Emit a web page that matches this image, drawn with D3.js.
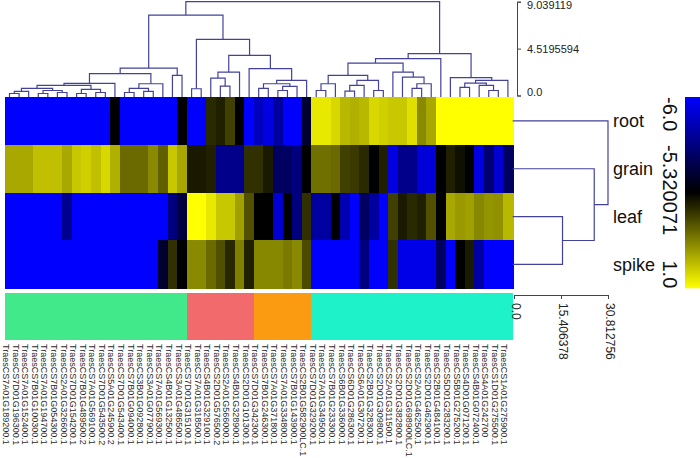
<!DOCTYPE html>
<html><head><meta charset="utf-8">
<script src="https://cdn.jsdelivr.net/npm/d3@7/dist/d3.min.js"></script>
<style>body{margin:0;background:#fff}svg{display:block}</style>
</head><body>
<svg id="chart" width="700" height="458"></svg>
<script>
// ---------------- DATA ----------------
const genes = [
"TraesCS7A01G189200.1","TraesCS7D01G196300.1","TraesCS7A01G152400.1","TraesCS7B01G100300.1",
"TraesCS7A01G194700.1","TraesCS7B01G054300.1","TraesCS2A01G326600.1","TraesCS7D01G154200.1",
"TraesCS7B01G489500.2","TraesCS7A01G569100.1","TraesCS7D01G543500.2","TraesCS5A01G245900.2",
"TraesCS7D01G543400.1","TraesCS7B01G094000.1","TraesCS3B01G092800.1","TraesCS3A01G077900.1",
"TraesCS7A01G569300.1","TraesCS4B01G132500.1","TraesCS3A01G486500.1","TraesCS7D01G315100.1",
"TraesCS7A01G318500.1","TraesCS4B01G329100.1","TraesCS2D01G576500.2","TraesCS2A01G566000.1",
"TraesCS4B01G328900.1","TraesCS2D01G101300.1","TraesCS7D01G342300.1","TraesCS7B01G246300.1",
"TraesCS7A01G371800.1","TraesCS7A01G334800.1","TraesCS7B01G143900.1","TraesCS2B01G582900LC.1",
"TraesCS7D01G329200.1","TraesCS7A01G349500.1","TraesCS7B01G233300.1","TraesCS6B01G336000.1",
"TraesCS6D01G286300.1","TraesCS6A01G307200.1","TraesCS2B01G328300.1","TraesCS2D01G309800.1",
"TraesCS2A01G311500.1","TraesCS2D01G382800.1","TraesCS2D01G698900LC.1","TraesCS2A01G462500.1",
"TraesCS2D01G462900.1","TraesCS2B01G484100.1","TraesCS5D01G283200.1","TraesCS5B01G275200.1",
"TraesCS4D01G071200.1","TraesCS4B01G072400.1","TraesCS4A01G242700","TraesCS1D01G275500.1",
"TraesCS1A01G275900.1"];

const tissues = ["root","grain","leaf","spike"];

const rootValues = [
-6,-6,-6,-6,-6,-6,-6,-6,-6,-6,-6,-5.32,-6,-6,-6,-6,-6,-6,-5.32,
-6,-6,-4.28,-4.53,-3.73,-5.32,-6,
-5.83,-5.92,-5.75,-6,-6,-5.45,
0.43,0.43,0.03,-0.76,-0.96,-0.76,0.03,-0.17,-0.36,-0.36,0.23,-1.9,-1.16,1,1,1,1,1,1,1,1];
const grainValues = [
-1.16,-1.16,-1.16,-0.56,-0.56,-0.56,-1.16,-0.36,-0.17,-0.56,0.03,-0.96,-2.69,-2.69,-2.69,-1.9,-2.94,-0.36,-1.16,
-4.7,-4.7,-4.53,-5.69,-5.69,-5.69,-4.13,
-4.13,-4.68,-5.58,-5.58,-5.66,-5.32,
-2.54,-2.54,-2.69,-3.73,-3.88,-4.28,-5.32,-4.53,-5.92,-5.69,-5.69,-5.9,-5.9,-5.32,-4.53,-4.92,-5.32,-5.92,-5.62,-5.88,-5.58];
const leafValues = [
-6,-6,-6,-6,-6,-6,-5.7,-6,-6,-6,-6,-6,-6,-6,-6,-6,-6,-5.66,-5.49,
1,1,0.43,-0.36,-0.36,-1.36,-3.34,
-5.32,-5.32,-5.88,-5.32,-5.66,-4.13,
-5.75,-5.75,-5.32,-5.79,-6,-5.58,-5.75,-6,-3.73,-4.68,-4.28,-4.53,-3.34,-5.32,-1.16,-1.5,-1.36,-1.95,-1.65,-1.75,-0.76];
const spikeValues = [
-6,-6,-6,-6,-6,-6,-6,-6,-6,-6,-6,-6,-6,-6,-6,-6,-5.45,-4.13,-5.32,
-1.9,-1.9,-2.69,-3.34,-4.33,-2.15,-4.53,
-1.95,-1.95,-1.95,-2.3,-1.9,-3.49,
-6,-6,-6,-6,-6,-5.66,-6,-6,-4.13,-5.94,-5.94,-5.94,-5.94,-5.58,-6,-5.32,-4.68,-5.75,-6,-6,-6];

const colorStops = [-6.0, -5.320071, 1.0];
const colorStopLabels = ["-6.0", "-5.320071", "1.0"];
const colorStopColors = ["#0000ff", "#000000", "#ffff00"];

const groupCounts = [19, 7, 6, 21];
const groupColors = ["#42e98b", "#f36a6c", "#fb9b12", "#1ef2c8"];

const colTreeTicks = [0, 4.5195594, 9.039119];
const colTreeTickLabels = ["0.0", "4.5195594", "9.039119"];
const rowTreeTicks = [0, 15.406378, 30.812756];
const rowTreeTickLabels = ["0.0", "15.406378", "30.812756"];

// column dendrogram: [height, left, right]; leaves = column index
const colTree =
[9.039119,
  [7.75,
    [2.645,
      [2.102,
        [1.163,
          [0.969,
            [0.678, [0.388, [0.194,0,1], 2], [0.484, [0.194,3,4], [0.29,5,6]]],
            [0.581, [0.194,7,8], [0.29,9,10]]],
          11],
        [1.133, [0.678, [0.29,12,13], [0.388,14,15]], 16]],
      [1.938, 17, 18]],
    [5.40,
      [0.649, 19, 20],
      [3.875,
        [2.257, [1.676, 21, [0.90, 22, 23]], 24],
        [2.587, 25, [1.453, [1.133, [0.678, 26, 27], [0.872, [0.484, 28, 29], 30]], 31]]]]],
  [4.04,
    [3.556,
      [3.129,
        [1.938,
          [1.133, [0.484, 32, 33], 34],
          [1.453, [0.969, [0.417, 35, 36], 37], [0.484, 38, 39]]],
        [2.257, 40, [1.773, 41, [1.133, [0.678, 42, 43], 44]]]],
      45],
    [1.715, 46, [1.453, [1.19, [0.775, 47, 48], [0.969, 49, [0.484, 50, 51]]], 52]]]];

// row dendrogram
const rowTree = [30.812756, "root", [26.3, "grain", [15.9, "leaf", "spike"]]];

// ---------------- DRAW ----------------
const svg = d3.select("#chart");
const FONT = "'Liberation Sans', Arial, sans-serif";
const lineColor = "#42429c";

const hmLeft = 4.7, hmRight = 512.7, hmTop = 97, hmBottom = 288.3;
const x = d3.scaleBand().domain(genes.map((g,i)=>i)).range([hmLeft, hmRight]).padding(0);
const y = d3.scaleBand().domain(tissues).range([hmTop, hmBottom]).padding(0);
const color = d3.scaleLinear().domain(colorStops).range(colorStopColors);

const valuesByTissue = {root: rootValues, grain: grainValues, leaf: leafValues, spike: spikeValues};
const cells = [];
tissues.forEach(t => valuesByTissue[t].forEach((v,i) => cells.push({t, i, v})));

svg.append("g").attr("shape-rendering", "crispEdges")
  .selectAll("rect").data(cells).join("rect")
  .attr("x", d => x(d.i)).attr("y", d => y(d.t))
  .attr("width", x.bandwidth() + 1).attr("height", y.bandwidth() + 1)
  .attr("fill", d => color(d.v));

// group annotation bar
let start = 0;
const groups = groupCounts.map((c, k) => { const g = {s: start, c, col: groupColors[k]}; start += c; return g; });
svg.append("g").attr("shape-rendering", "crispEdges")
  .selectAll("rect").data(groups).join("rect")
  .attr("x", d => x(d.s)).attr("y", 293)
  .attr("width", d => d.c * x.bandwidth()).attr("height", 47)
  .attr("fill", d => d.col);

// column labels
svg.append("g").selectAll("text").data(genes).join("text")
  .attr("transform", (g,i) => `translate(${x(i) + x.bandwidth()/2 - 3.3},344) rotate(90)`)
  .attr("dy", "0.35em")
  .attr("font-family", FONT).attr("font-size", 9).attr("fill", "#2a2a2a")
  .text(g => g);

// column dendrogram
const yD = d3.scaleLinear().domain([0, 9.039119]).range([95.5, 1.7]);
const dg = svg.append("g").attr("stroke", lineColor).attr("stroke-width", 1.2).attr("fill", "none");
function drawCol(node) {
  if (typeof node === "number") return {x: x(node) + x.bandwidth()/2, y: hmTop};
  const [h, a, b] = node;
  const A = drawCol(a), B = drawCol(b);
  const yy = yD(h);
  dg.append("path").attr("d", `M${A.x},${A.y}V${yy}H${B.x}V${B.y}`);
  return {x: (A.x + B.x) / 2, y: yy};
}
drawCol(colTree);

// column dendrogram axis
const axT = svg.append("g").attr("transform", "translate(517,0)")
  .call(d3.axisRight(yD).tickValues(colTreeTicks).tickSize(4).tickSizeOuter(4)
    .tickFormat((d,i) => colTreeTickLabels[i]));
axT.select(".domain").attr("stroke", "#444");
axT.selectAll(".tick line").attr("stroke", "#444");
axT.selectAll(".tick text").attr("font-family", FONT).attr("font-size", 11).attr("fill", "#222").attr("x", 10);
axT.selectAll(".tick text").filter(d => d === 9.039119).attr("dy", "0.6em");
axT.selectAll(".tick text").filter(d => d === 0).attr("dy", "0em");

// row dendrogram
const xR = d3.scaleLinear().domain([0, 30.812756]).range([514, 608]);
const rg = svg.append("g").attr("stroke", lineColor).attr("stroke-width", 1.2).attr("fill", "none");
function drawRow(node) {
  if (typeof node === "string") return {x: hmRight, y: y(node) + y.bandwidth()/2};
  const [h, a, b] = node;
  const A = drawRow(a), B = drawRow(b);
  const xx = xR(h);
  rg.append("path").attr("d", `M${A.x},${A.y}H${xx}V${B.y}H${B.x}`);
  return {x: xx, y: (A.y + B.y) / 2};
}
drawRow(rowTree);

// row axis
const axR = svg.append("g").attr("transform", "translate(0,295)")
  .call(d3.axisBottom(xR).tickValues(rowTreeTicks).tickSize(4).tickSizeOuter(4)
    .tickFormat((d,i) => rowTreeTickLabels[i]));
axR.select(".domain").attr("stroke", "#444");
axR.selectAll(".tick line").attr("stroke", "#444");
axR.selectAll(".tick text").attr("font-family", FONT).attr("font-size", 12).attr("fill", "#222")
  .attr("transform", "rotate(90)").attr("x", 8).attr("y", -2).attr("dy", "0.35em")
  .style("text-anchor", "start");

// row labels
svg.append("g").selectAll("text").data(tissues).join("text")
  .attr("x", 613).attr("y", t => y(t) + y.bandwidth()/2)
  .attr("dy", "0.35em")
  .attr("font-family", FONT).attr("font-size", 18).attr("fill", "#111")
  .text(t => t);

// colour legend
const defs = svg.append("defs");
const grad = defs.append("linearGradient").attr("id", "cbar").attr("x1", 0).attr("y1", 0).attr("x2", 0).attr("y2", 1);
colorStopColors.forEach((c,i) => grad.append("stop").attr("offset", `${i*50}%`).attr("stop-color", c));
svg.append("rect").attr("x", 685).attr("y", hmTop).attr("width", 16).attr("height", hmBottom - hmTop)
  .attr("fill", "url(#cbar)");
const legY = d3.scaleLinear().domain([0, 2]).range([hmTop, hmBottom]);
const anchors = ["start", "middle", "end"];
svg.append("g").selectAll("text").data(colorStopLabels).join("text")
  .attr("transform", (d,i) => `translate(670,${i === 1 ? 190 : legY(i)}) rotate(90)`)
  .attr("dy", "0.35em").attr("text-anchor", (d,i) => anchors[i])
  .attr("font-family", FONT).attr("font-size", 20).attr("fill", "#111")
  .text(d => d);
</script>
</body></html>
